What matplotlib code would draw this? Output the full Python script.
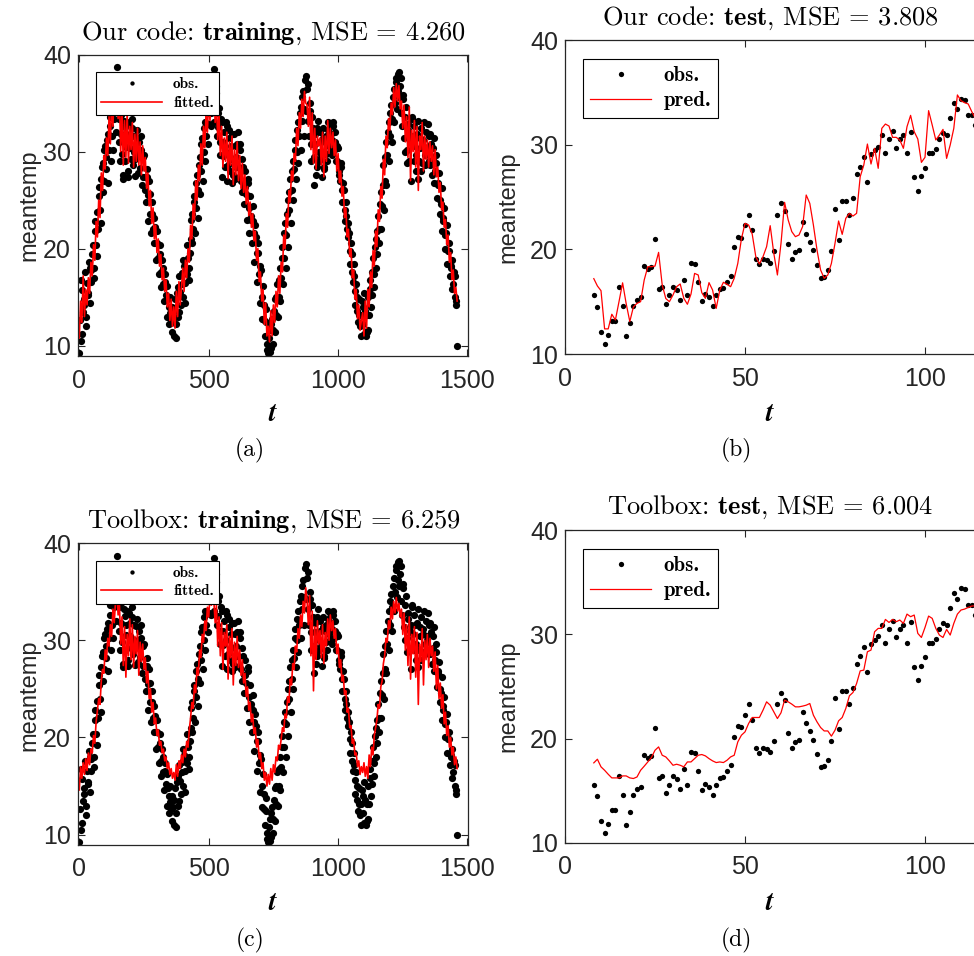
import numpy as np
import matplotlib
matplotlib.use("Agg")
import matplotlib.pyplot as plt

plt.rcParams['font.family'] = 'Liberation Sans'
plt.rcParams['mathtext.fontset'] = 'cm'

# training period: one reading every 5 days, plus the in-between readings
t_train = np.arange(0, 1465, 5)
t_train_mid = np.arange(2, 1462, 5)
obs_train = [
    # year 1
    9.2, 10.5, 15.7, 13.5, 14.8, 12.0, 16.5, 15.2, 18.0, 16.6,
    19.4, 18.0, 21.8, 20.4, 23.8, 25.4, 24.0, 27.2, 28.8, 27.0,
    30.6, 29.4, 31.8, 30.2, 33.6, 31.6, 35.0, 33.4, 36.4, 38.7,
    35.2, 31.0, 33.8, 29.8, 27.2, 32.5, 30.5, 33.0, 28.0, 31.8,
    29.2, 32.4, 30.0, 27.5, 31.5, 29.5, 31.0, 28.3, 30.2, 27.4,
    29.6, 26.0, 28.2, 25.5, 27.0, 23.6, 24.8, 22.0, 23.2, 20.6,
    21.8, 19.0, 20.4, 17.6, 18.8, 16.4, 17.4, 15.2, 16.2, 14.0,
    15.0, 12.6, 14.0,
    # year 2
    11.0, 14.8, 12.2, 16.0, 13.5, 15.5, 17.5, 15.0, 18.2, 16.5,
    17.4, 19.0, 18.0, 21.0, 23.6, 22.0, 25.4, 24.2, 27.6, 26.0,
    29.4, 28.0, 31.4, 30.0, 33.0, 31.6, 34.6, 32.8, 36.0, 34.0,
    37.0, 38.5, 34.2, 36.0, 32.5, 34.5, 31.0, 33.0, 29.5, 32.0,
    30.0, 32.6, 28.6, 31.4, 29.2, 31.8, 27.6, 30.6, 28.4, 30.8,
    28.4, 30.2, 27.0, 29.2, 26.4, 28.0, 25.6, 27.2, 24.2, 25.4,
    23.0, 24.4, 21.6, 22.4, 19.6, 20.6, 17.4, 18.2, 15.0, 16.2,
    12.6, 13.8, 10.2,
    # year 3
    9.2, 11.6, 9.8, 12.8, 11.6, 14.8, 13.2, 16.4, 15.0, 18.0,
    17.0, 20.2, 19.0, 22.6, 21.4, 25.0, 24.0, 27.2, 26.0, 29.0,
    28.2, 31.2, 30.0, 33.0, 31.6, 34.6, 33.2, 36.2, 34.4, 37.8,
    36.4, 33.2, 35.0, 30.8, 33.6, 29.4, 31.8, 27.6, 32.4, 30.0,
    32.0, 29.4, 31.4, 28.4, 31.0, 29.8, 32.2, 30.6, 32.8, 31.2,
    32.6, 30.2, 32.0, 29.0, 30.4, 27.6, 28.8, 26.0, 26.8, 24.0,
    24.8, 22.0, 22.6, 19.8, 20.6, 17.6, 18.4, 15.6, 16.4, 13.6,
    14.8, 12.0, 13.2,
    # year 4
    14.0, 11.2, 13.6, 11.4, 15.0, 13.2, 16.8, 15.2, 19.0, 17.4,
    21.0, 19.4, 23.4, 22.0, 25.8, 24.4, 28.6, 27.0, 31.0, 29.6,
    33.0, 31.6, 34.8, 33.4, 36.4, 35.0, 37.6, 36.2, 38.2, 36.8,
    34.0, 35.4, 31.4, 33.6, 30.2, 32.8, 29.0, 31.6, 33.4, 30.6,
    32.6, 29.6, 31.8, 27.2, 30.4, 32.4, 28.8, 31.2, 29.6, 32.0,
    30.4, 31.6, 28.6, 30.8, 29.2, 31.4, 28.0, 29.6, 26.6, 27.8,
    25.0, 26.2, 23.2, 24.2, 21.4, 22.4, 19.8, 20.6, 18.0, 18.8,
    16.4, 17.2, 14.6, 10.0,
]
obs_train_mid = [
    # year 1
    12.6, 16.8, 11.2, 14.2, 17.6, 13.0, 15.4, 18.6, 14.4, 17.8,
    20.4, 17.0, 22.8, 19.2, 22.0, 26.4, 22.6, 28.4, 25.8, 30.2,
    28.2, 31.2, 26.8, 32.6, 29.0, 34.4, 30.2, 36.6, 32.0, 35.8,
    33.4, 29.0, 31.8, 27.6, 33.2, 29.0, 31.6, 27.4, 32.8, 30.4,
    33.4, 28.6, 31.6, 29.2, 32.2, 27.8, 30.0, 31.6, 26.6, 29.4,
    27.4, 24.8, 27.4, 22.8, 25.6, 21.6, 23.6, 20.6, 22.2, 18.8,
    20.6, 17.4, 19.4, 16.0, 18.0, 14.6, 16.6, 13.0, 14.8, 12.2,
    13.4, 11.4, 12.8,
    # year 2
    13.6, 10.8, 15.4, 13.0, 17.2, 14.2, 16.4, 18.8, 14.4, 17.8,
    20.4, 16.8, 19.6, 23.0, 20.6, 24.8, 21.6, 26.8, 23.2, 28.6,
    25.6, 30.8, 27.0, 32.4, 29.0, 34.0, 30.8, 36.4, 32.6, 37.6,
    35.6, 33.0, 36.8, 31.6, 34.0, 29.6, 33.4, 27.4, 31.0, 28.4,
    33.0, 27.0, 32.2, 28.0, 30.6, 26.8, 31.8, 27.2, 29.4, 32.0,
    27.4, 30.8, 25.8, 28.4, 24.6, 26.4, 23.0, 26.8, 21.6, 23.4,
    20.6, 22.8, 18.6, 21.2, 16.6, 19.6, 14.4, 17.8, 12.8, 14.2,
    11.0, 12.4, 9.6,
    # year 3
    10.8, 9.4, 12.2, 10.2, 13.6, 11.4, 15.0, 13.0, 16.8, 14.6,
    19.0, 16.4, 21.6, 18.0, 23.6, 20.2, 25.8, 22.6, 28.0, 25.0,
    30.2, 27.2, 32.2, 28.8, 34.0, 30.2, 35.6, 31.6, 37.4, 34.2,
    37.0, 31.6, 34.2, 29.0, 32.4, 26.6, 30.8, 28.4, 33.2, 29.0,
    31.0, 27.4, 32.4, 28.2, 31.6, 29.0, 33.0, 30.0, 31.8, 29.6,
    33.0, 31.0, 29.0, 30.6, 28.0, 27.0, 28.4, 24.8, 26.0, 22.8,
    23.4, 21.2, 21.6, 18.4, 19.4, 16.6, 17.2, 14.2, 15.0, 12.4,
    13.2, 11.0, 14.6,
    # year 4
    12.2, 15.4, 11.0, 13.2, 11.6, 15.8, 14.0, 17.6, 16.0, 20.2,
    18.0, 21.8, 20.6, 24.6, 22.0, 26.6, 24.0, 29.4, 26.6, 32.0,
    29.0, 34.0, 31.0, 35.6, 33.0, 37.2, 34.4, 38.0, 35.6, 37.6,
    32.6, 35.8, 30.0, 34.6, 28.8, 32.2, 31.0, 27.0, 33.6, 29.0,
    31.6, 28.0, 33.2, 29.0, 31.4, 28.0, 30.6, 33.0, 28.6, 30.0,
    32.8, 29.0, 31.8, 27.6, 30.4, 26.8, 28.8, 25.2, 26.8, 23.6,
    24.6, 21.8, 22.8, 20.0, 21.6, 18.4, 19.8, 17.2, 18.2, 15.8,
    17.6, 15.0, 14.2,
]
fit_ours = [
    10.8, 14.6, 12.4, 17.2, 13.0, 15.8, 14.2, 17.0, 15.4, 18.6,
    17.2, 20.4, 18.8, 22.8, 21.2, 25.0, 23.2, 27.8, 26.0, 29.6,
    28.2, 31.4, 29.6, 33.6, 30.8, 35.2, 32.6, 36.8, 34.0, 37.0,
    33.4, 35.6, 30.0, 34.2, 28.6, 33.2, 29.4, 34.0, 28.8, 32.6,
    30.2, 33.0, 28.4, 31.8, 29.0, 32.4, 28.6, 31.0, 27.6, 30.6,
    28.0, 29.4, 26.2, 27.8, 24.4, 26.0, 22.6, 24.2, 21.0, 22.4,
    19.6, 21.0, 18.2, 19.4, 16.8, 18.0, 15.6, 16.8, 14.0, 15.4,
    12.6, 14.8, 12.0,
    14.0, 11.8, 15.6, 13.0, 16.6, 14.2, 16.0, 18.0, 15.6, 18.8,
    17.0, 20.0, 18.6, 22.4, 21.0, 24.6, 23.0, 27.0, 25.0, 28.6,
    27.0, 30.8, 28.6, 32.6, 30.4, 34.2, 32.0, 35.6, 33.2, 37.2,
    35.0, 36.4, 33.0, 35.0, 31.2, 33.8, 29.6, 32.6, 28.4, 31.4,
    29.0, 32.0, 27.2, 31.0, 28.6, 31.6, 26.6, 30.2, 27.6, 31.0,
    27.0, 29.6, 26.2, 28.8, 25.8, 27.6, 24.6, 26.4, 23.4, 24.8,
    22.2, 23.6, 20.8, 21.8, 18.8, 20.0, 16.6, 17.6, 14.6, 15.8,
    12.2, 14.4, 11.0,
    12.0, 10.4, 13.6, 11.0, 14.2, 12.4, 15.6, 14.0, 17.2, 15.4,
    18.6, 17.6, 21.4, 20.0, 23.6, 22.2, 26.0, 24.8, 28.0, 27.0,
    29.8, 29.0, 32.4, 30.6, 34.0, 32.4, 35.4, 33.6, 36.2, 35.0,
    34.8, 32.6, 35.6, 30.2, 34.0, 28.8, 32.4, 28.2, 31.6, 30.6,
    31.4, 28.6, 32.0, 27.4, 31.6, 29.0, 33.2, 29.8, 32.4, 30.4,
    32.0, 29.6, 31.2, 28.0, 29.8, 26.8, 28.0, 25.4, 26.4, 23.2,
    24.2, 21.2, 22.0, 19.2, 20.0, 17.0, 17.8, 14.8, 15.8, 12.8,
    14.2, 11.6, 12.6,
    13.4, 11.0, 14.6, 11.8, 15.8, 14.0, 17.6, 16.0, 19.8, 18.2,
    21.8, 20.2, 24.0, 22.8, 26.4, 25.2, 29.2, 27.6, 31.6, 30.4,
    33.4, 32.2, 35.0, 33.8, 36.6, 34.6, 37.0, 35.2, 36.8, 34.4,
    35.2, 32.4, 34.8, 31.0, 33.6, 29.4, 34.6, 27.0, 32.2, 30.0,
    33.2, 28.4, 32.6, 26.0, 31.6, 30.2, 33.0, 28.0, 31.6, 29.2,
    31.2, 28.4, 31.0, 29.0, 30.6, 27.6, 30.2, 27.4, 28.4, 25.8,
    26.8, 24.0, 24.8, 22.2, 23.0, 20.4, 21.4, 18.6, 19.6, 16.8,
    17.8, 15.4, 16.0, 14.6,
]
fit_toolbox = [
    14.6, 17.0, 15.8, 17.4, 16.2, 17.8, 16.6, 18.4, 17.2, 18.8,
    18.4, 20.2, 19.4, 21.6, 22.8, 24.0, 23.4, 25.8, 27.0, 26.6,
    29.0, 28.0, 30.2, 29.4, 31.6, 30.4, 33.2, 31.8, 34.0, 35.0,
    32.6, 33.8, 29.6, 32.4, 27.4, 31.4, 26.2, 30.6, 28.4, 32.2,
    28.0, 31.6, 27.2, 30.4, 28.6, 31.0, 26.4, 29.8, 27.8, 29.6,
    27.0, 28.2, 25.6, 26.8, 24.0, 25.0, 22.6, 23.6, 21.4, 22.0,
    20.2, 20.8, 19.2, 19.6, 18.4, 18.8, 17.6, 18.0, 16.8, 17.4,
    16.2, 16.8, 15.8,
    16.4, 15.6, 17.2, 16.0, 17.6, 16.8, 18.2, 17.4, 18.8, 18.0,
    19.6, 19.0, 20.8, 22.0, 23.6, 23.0, 25.4, 24.6, 27.2, 26.4,
    29.0, 28.2, 30.6, 29.8, 32.0, 31.0, 33.4, 32.4, 34.6, 33.6,
    35.2, 34.0, 31.8, 33.6, 29.4, 32.4, 28.4, 31.8, 27.0, 30.8,
    29.4, 31.6, 26.0, 30.4, 28.2, 31.2, 25.4, 29.8, 27.4, 30.4,
    27.2, 29.0, 26.4, 28.0, 25.6, 26.6, 24.2, 25.2, 22.8, 23.6,
    21.6, 22.4, 20.4, 21.0, 19.0, 19.8, 17.8, 18.4, 16.8, 17.4,
    15.6, 16.4, 15.0,
    16.2, 15.2, 16.8, 15.6, 17.2, 16.4, 18.0, 17.6, 19.2, 18.8,
    19.8, 21.0, 20.6, 22.4, 22.0, 24.2, 23.6, 26.0, 25.4, 27.6,
    27.0, 29.4, 28.8, 31.2, 30.2, 32.6, 31.4, 34.0, 32.8, 35.4,
    34.2, 31.6, 34.6, 28.4, 33.0, 24.8, 31.4, 28.0, 32.0, 29.6,
    31.0, 28.2, 31.6, 27.6, 30.8, 29.4, 32.2, 30.0, 32.6, 31.0,
    32.0, 30.2, 31.2, 28.6, 29.6, 27.2, 28.0, 25.8, 26.4, 24.4,
    24.8, 22.6, 23.0, 21.0, 21.2, 19.4, 19.8, 18.2, 18.4, 17.0,
    17.6, 16.2, 17.0,
    16.4, 17.4, 16.0, 17.0, 15.8, 18.2, 17.0, 19.0, 18.2, 20.2,
    21.0, 21.8, 23.4, 23.0, 25.2, 25.8, 27.6, 28.4, 30.2, 29.8,
    32.0, 31.2, 33.4, 32.2, 34.0, 32.8, 34.4, 33.0, 33.8, 32.4,
    33.2, 30.6, 32.8, 29.0, 31.6, 27.4, 32.4, 26.0, 30.6, 28.6,
    31.4, 26.2, 30.8, 23.4, 29.6, 27.8, 31.2, 25.4, 30.0, 28.0,
    30.6, 27.2, 30.2, 28.4, 29.4, 26.8, 28.8, 25.0, 27.4, 24.0,
    25.6, 23.0, 24.4, 21.4, 22.6, 20.2, 21.2, 19.0, 20.0, 18.2,
    19.0, 17.2, 18.0, 16.8,
]

# test period
t_test = np.arange(8, 115)
obs_test = [
    15.6, 14.5, 12.1, 11.0, 11.8, 13.2, 13.2, 16.4, 14.6, 11.7,
    13.0, 14.6, 15.2, 15.4, 18.4, 18.1, 18.3, 21.0, 16.2, 16.4,
    14.8, 15.6, 16.4, 16.1, 15.2, 17.1, 15.6, 18.7, 18.6, 16.9,
    15.1, 15.7, 15.4, 14.6, 15.6, 16.2, 16.3, 16.9, 17.5, 20.2,
    21.2, 21.1, 22.3, 23.3, 21.8, 19.1, 18.6, 19.1, 19.0, 18.7,
    19.8, 23.3, 24.4, 23.7, 20.5, 19.1, 19.7, 19.9, 22.6, 21.5,
    20.7, 19.9, 18.5, 17.3, 17.4, 18.0, 19.8, 23.9, 20.9, 24.6,
    24.6, 23.3, 24.9, 27.2, 27.9, 28.8, 26.4, 29.1, 29.5, 29.8,
    30.9, 29.2, 30.5, 31.3, 29.7, 30.5, 30.9, 29.2, 31.2, 26.9,
    25.6, 27.0, 27.8, 29.2, 29.2, 29.6, 30.5, 31.1, 30.9, 32.5,
    34.0, 33.4, 34.4, 34.3, 32.8, 32.8, 31.9,
]
pred_ours = [
    17.2, 16.5, 16.05, 12.4, 12.4, 13.8, 13.25, 15.0, 16.8, 14.8,
    13.1, 14.5, 14.84, 15.0, 17.07, 18.34, 18.34, 18.4, 19.71, 16.6,
    15.3, 15.0, 15.64, 16.43, 16.69, 15.32, 14.75, 15.73, 17.7, 17.55,
    15.86, 15.32, 16.82, 16.11, 14.36, 16.11, 16.85, 16.66, 16.43, 17.23,
    18.66, 20.99, 22.48, 22.32, 21.46, 19.3, 18.6, 19.3, 20.25, 22.26,
    19.62, 17.55, 20.57, 24.49, 22.8, 21.69, 21.21, 21.37, 22.17, 25.19,
    24.39, 22.32, 19.94, 18.03, 17.23, 17.55, 18.66, 20.57, 22.71, 21.43,
    22.96, 23.44, 23.18, 23.44, 26.94, 28.06, 30.06, 28.15, 29.65, 27.74,
    31.56, 31.97, 31.78, 30.7, 30.7, 30.45, 29.65, 31.72, 32.8, 31.24,
    30.54, 28.31, 28.79, 33.25, 31.88, 30.45, 30.92, 31.46, 28.69, 29.97,
    31.56, 34.75, 34.2, 34.01, 33.89, 33.15, 32.5,
]
pred_toolbox = [
    17.68, 18.03, 17.3, 16.97, 16.59, 16.24, 16.24, 16.24, 16.43, 16.43,
    16.24, 16.18, 16.33, 16.97, 17.36, 17.77, 18.19, 18.89, 19.21, 18.41,
    18.25, 17.87, 17.45, 17.55, 17.45, 17.3, 17.77, 17.77, 18.09, 18.41,
    18.48, 18.35, 18.09, 17.87, 17.71, 17.77, 17.71, 17.93, 18.25, 18.41,
    19.69, 20.33, 20.65, 21.45, 22.03, 22.03, 22.03, 22.73, 23.53, 23.21,
    22.57, 21.93, 22.48, 23.69, 23.53, 23.31, 23.05, 23.05, 23.12, 23.21,
    23.37, 22.25, 21.61, 21.07, 20.74, 20.74, 20.24, 20.81, 21.71, 22.03,
    22.89, 24.11, 24.43, 25.29, 26.5, 26.57, 28.33, 28.49, 30.25, 30.57,
    30.57, 31.43, 31.14, 31.43, 31.21, 31.37, 31.05, 31.94, 31.69, 31.85,
    30.09, 29.7, 30.66, 31.75, 31.53, 30.57, 29.93, 29.7, 30.47, 29.93,
    31.05, 31.94, 32.33, 32.42, 32.58, 32.71, 32.74,
]

W, H = 974, 956
fig = plt.figure(figsize=(W / 100, H / 100), dpi=100)


def px_axes(l, t, r, b):
    return fig.add_axes([l / W, 1 - b / H, (r - l) / W, (b - t) / H])


def px_text(x, y, s, size, **kw):
    fig.text(x / W, 1 - y / H, s, fontsize=size, ha='center', va='center', **kw)


def style(ax, xlim, ylim, xticks):
    ax.set_xlim(*xlim)
    ax.set_ylim(*ylim)
    ax.set_xticks(xticks)
    ax.set_yticks([10, 20, 30, 40])
    ax.tick_params(direction='in', top=True, right=True, length=5,
                   width=0.8, color='#262626', labelsize=18,
                   labelcolor='#262626')
    ax.tick_params(axis='x', pad=9)
    ax.tick_params(axis='y', pad=5)
    for sp in ax.spines.values():
        sp.set_color('#262626')
        sp.set_linewidth(0.9)


t_all = np.concatenate([t_train, t_train_mid])
obs_all = obs_train + obs_train_mid

panels = [
    ((78, 54.5, 468, 356), 'fitted.', fit_ours, 'Our code: $\\mathbf{training}$, MSE = 4.260'),
    ((565, 40, 997, 354), 'pred.', pred_ours, 'Our code: $\\mathbf{test}$, MSE = 3.808'),
    ((78, 543, 468, 845), 'fitted.', fit_toolbox, 'Toolbox: $\\mathbf{training}$, MSE = 6.259'),
    ((565, 530, 997, 843), 'pred.', pred_toolbox, 'Toolbox: $\\mathbf{test}$, MSE = 6.004'),
]

title_pos = [(274, 33), (770, 18), (274, 521), (770, 507)]
caps = ['(a)', '(b)', '(c)', '(d)']
cap_pos = [(250, 450), (736, 450), (250, 940), (736, 940)]
tlab_pos = [(273, 414), (770, 414), (273, 903), (770, 903)]
ylab_pos = [(29, 205), (508, 207), (29, 695), (508, 696)]

for i, (box, lab, model, title) in enumerate(panels):
    ax = px_axes(*box)
    train = lab == 'fitted.'
    if train:
        ax.plot(t_all, obs_all, 'o', color='k', ms=5.2, mew=0, label='obs.')
        ax.plot(t_train, model, '-', color='r', lw=1.2, label=lab)
        style(ax, (-5, 1502), (8.94, 40), [0, 500, 1000, 1500])
        leg = ax.legend(loc='upper left', bbox_to_anchor=(0.046, 0.942),
                        borderaxespad=0, prop={'family': 'cmb10', 'size': 11},
                        handlelength=4.0, fancybox=False, edgecolor='k',
                        framealpha=1, borderpad=0.35, labelspacing=0.3,
                        handletextpad=0.7, markerscale=0.6)
    else:
        ax.plot(t_test, obs_test, 'o', color='k', ms=3.8, mew=0, label='obs.')
        ax.plot(t_test, model, '-', color='r', lw=0.9, label=lab)
        style(ax, (0, 120), (10, 40), [0, 50, 100])
        leg = ax.legend(loc='upper left', bbox_to_anchor=(0.042, 0.94),
                        borderaxespad=0, prop={'family': 'cmb10', 'size': 15},
                        handlelength=2.9, fancybox=False, edgecolor='k',
                        framealpha=1, borderpad=0.35, labelspacing=0.3,
                        handletextpad=0.6)
    leg.get_frame().set_linewidth(0.8)
    px_text(*title_pos[i], title, 19, family='cmr10')
    px_text(*tlab_pos[i], r'$\mathbfit{t}$', 20)
    px_text(*cap_pos[i], caps[i], 17, family='cmr10')
    px_text(*ylab_pos[i], 'meantemp', 17, rotation=90, color='#262626')

fig.savefig('out.png', dpi=100)
